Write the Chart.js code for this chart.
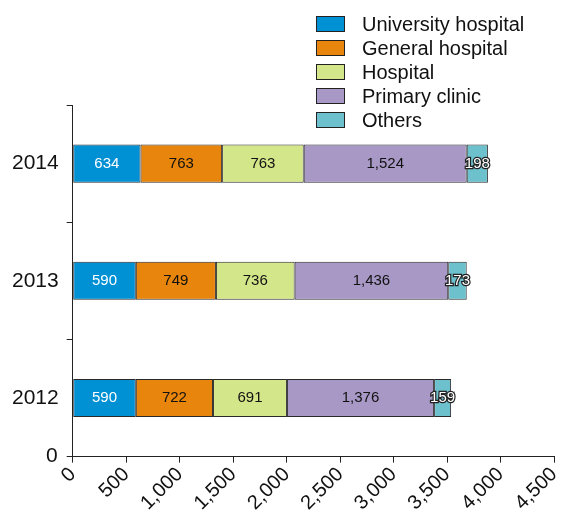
<!DOCTYPE html>
<html>
<head>
<meta charset="utf-8">
<script src="https://cdn.jsdelivr.net/npm/chart.js@4/dist/chart.umd.min.js"></script>
<style>
    html, body { margin: 0; padding: 0; background: #fff; }
    #wrap { position: relative; width: 566px; height: 515px; }
    #legend { position: absolute; left: 316px; top: 12px; font-family: "Liberation Sans", Arial, sans-serif; font-size: 20px; color: #111; }
    #legend div { height: 24px; line-height: 24px; display: flex; align-items: center; }
    #legend span.box { display: inline-block; width: 27px; height: 14px; border: 1px solid #222; margin-right: 17px; }
</style>
</head>
<body>
<div id="wrap">
    <canvas id="hospChart" width="566" height="515"></canvas>
    <div id="legend"></div>
</div>
<script>
const years = ['2014', '2013', '2012'];
const seriesNames = ['University hospital', 'General hospital', 'Hospital', 'Primary clinic', 'Others'];
const universityHospital = [634, 590, 590];
const generalHospital = [763, 749, 722];
const hospital = [763, 736, 691];
const primaryClinic = [1524, 1436, 1376];
const others = [198, 173, 159];
const xTicks = [0, 500, 1000, 1500, 2000, 2500, 3000, 3500, 4000, 4500];

const colors = ['#0090d4', '#e8850c', '#d4e68a', '#a898c6', '#6cc1cd'];
const labelColors = ['#ffffff', '#111111', '#111111', '#111111', '#ffffff'];
const seriesValues = [universityHospital, generalHospital, hospital, primaryClinic, others];

// value labels on the bars
const barLabels = {
    id: 'barLabels',
    afterDatasetsDraw(chart) {
        const ctx = chart.ctx;
        ctx.save();
        ctx.font = '15px "Liberation Sans", Arial, sans-serif';
        ctx.textAlign = 'center';
        ctx.textBaseline = 'middle';
        chart.data.datasets.forEach((ds, i) => {
            chart.getDatasetMeta(i).data.forEach((bar, j) => {
                const txt = ds.data[j].toLocaleString('en-US');
                const x = (bar.x + bar.base) / 2;
                if (i === 4) {
                    ctx.lineWidth = 2.5;
                    ctx.strokeStyle = '#222';
                    ctx.strokeText(txt, x, bar.y);
                }
                ctx.fillStyle = labelColors[i];
                ctx.fillText(txt, x, bar.y);
            });
        });
        ctx.restore();
    }
};

// the lone "0" at the foot of the y axis
const yZero = {
    id: 'yZero',
    afterDraw(chart) {
        const s = chart.scales.y;
        const ctx = chart.ctx;
        ctx.save();
        ctx.font = '21px "Liberation Sans", Arial, sans-serif';
        ctx.fillStyle = '#111';
        ctx.textAlign = 'right';
        ctx.textBaseline = 'middle';
        ctx.fillText('0', s.right - 15, s.bottom);
        ctx.restore();
    }
};

function initChart() {
    const ctx = document.getElementById('hospChart').getContext('2d');
    new Chart(ctx, {
        type: 'bar',
        data: {
            labels: years,
            datasets: seriesNames.map((name, i) => ({
                label: name,
                data: seriesValues[i],
                backgroundColor: colors[i],
                borderColor: '#2a2a2a',
                borderWidth: 1,
                borderSkipped: false,
                categoryPercentage: 1,
                barPercentage: 0.325
            }))
        },
        options: {
            indexAxis: 'y',
            responsive: false,
            animation: false,
            layout: { padding: { top: 105, right: 12, left: 4, bottom: 0 } },
            plugins: {
                legend: { display: false },
                tooltip: { enabled: false }
            },
            scales: {
                x: {
                    stacked: true,
                    min: 0,
                    max: 4500,
                    afterBuildTicks: axis => { axis.ticks = xTicks.map(v => ({ value: v })); },
                    afterFit: axis => { axis.paddingRight = 0; },
                    ticks: {
                        minRotation: 45,
                        maxRotation: 45,
                        color: '#111',
                        padding: 0,
                        font: { family: '"Liberation Sans", Arial, sans-serif', size: 20 },
                        callback: v => v.toLocaleString('en-US')
                    },
                    grid: { drawOnChartArea: false, drawTicks: true, tickLength: 6, color: '#222' },
                    border: { color: '#222', width: 1 }
                },
                y: {
                    stacked: true,
                    ticks: {
                        color: '#111',
                        padding: 8,
                        font: { family: '"Liberation Sans", Arial, sans-serif', size: 21 }
                    },
                    grid: { drawOnChartArea: false, drawTicks: true, tickLength: 6, color: '#222', offset: true },
                    border: { color: '#222', width: 1 }
                }
            }
        },
        plugins: [barLabels, yZero]
    });

    const legend = document.getElementById('legend');
    seriesNames.forEach((name, i) => {
        const row = document.createElement('div');
        row.innerHTML = `<span class="box" style="background:${colors[i]}"></span>${name}`;
        legend.appendChild(row);
    });
}

document.addEventListener('DOMContentLoaded', initChart);
</script>
</body>
</html>
